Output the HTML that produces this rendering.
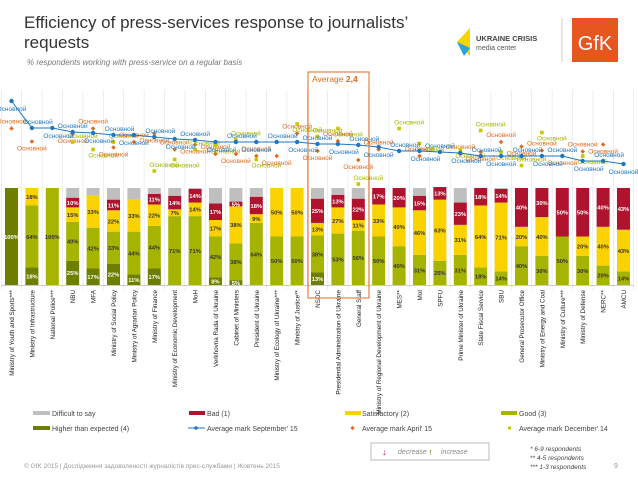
<!DOCTYPE html>
<html><head><meta charset="utf-8"><style>
body{margin:0;background:#fff;font-family:"Liberation Sans","DejaVu Sans",sans-serif}
svg{display:block}
</style></head><body>
<svg id="c" width="638" height="479" viewBox="0 0 638 479" xmlns="http://www.w3.org/2000/svg" font-family="Liberation Sans, DejaVu Sans, sans-serif">
<text x="24" y="28" font-size="17" fill="#333">Efficiency of press-services response to journalists’</text>
<text x="24" y="48" font-size="17" fill="#333">requests</text>
<text x="27" y="65" font-size="8" font-style="italic" fill="#777">% respondents working with press-service on a regular basis</text>
<g>
<polygon points="457,42 470,28 470,56" fill="#f5d400"/><polygon points="457,42 470,48 464,56" fill="#29a3d9"/>
<text x="476" y="41" font-size="7.5" font-weight="bold" fill="#444">UKRAINE CRISIS</text>
<text x="476" y="50" font-size="7" fill="#555">media center</text>
</g>
<line x1="562" y1="18" x2="562" y2="62" stroke="#ccc"/>
<g><rect x="572" y="18" width="46" height="44" fill="#e8561f"/><text x="595" y="50" font-size="20" fill="#fff" text-anchor="middle">GfK</text></g>
<g id="grid"></g><g id="bars"></g><g id="marks"></g><g id="xl"></g>
<rect x="308" y="72" width="61" height="226" fill="none" stroke="#e06a1c" stroke-width="1"/>
<text x="312" y="82" font-size="8.5" fill="#e06a1c">Average <tspan font-weight="bold">2,4</tspan></text>
<g font-size="7" fill="#444">
<g><rect x="33" y="411" width="17" height="4" fill="#bfbfbf"/><text x="52" y="416">Difficult to say</text></g>
<g><rect x="189" y="411" width="16" height="4" fill="#b0132e"/><text x="207" y="416">Bad (1)</text></g>
<g><rect x="345" y="411" width="16" height="4" fill="#fad200"/><text x="362" y="416">Satisfactory (2)</text></g>
<g><rect x="501" y="411" width="16" height="4" fill="#a5b400"/><text x="519" y="416">Good (3)</text></g>
<g><rect x="33" y="426" width="17" height="4" fill="#6e7f00"/><text x="52" y="431">Higher than expected (4)</text></g>
<g><line x1="188" y1="428" x2="205" y2="428" stroke="#1f77c4"/><circle cx="196" cy="428" r="1.8" fill="#1f77c4"/><text x="207" y="431">Average mark September' 15</text></g>
<g><rect x="351" y="426.5" width="3" height="3" fill="#e06a1c" transform="rotate(45 352.5 428)"/><text x="362" y="431">Average mark April' 15</text></g>
<g><rect x="508" y="426.5" width="3" height="3" fill="#c8c800"/><text x="519" y="431">Average mark December' 14</text></g>
</g>
<g>
<rect x="371" y="443" width="118" height="17" fill="#fff" stroke="#bbb"/>
<text x="382" y="455" font-size="9" fill="#b0132e" font-weight="bold">↓</text>
<text x="398" y="454" font-size="7" font-style="italic" fill="#888">decrease</text>
<text x="428" y="455" font-size="9" fill="#6e7f00" font-weight="bold">↑</text>
<text x="441" y="454" font-size="7" font-style="italic" fill="#888">increase</text>
</g>
<g font-size="6.5" font-style="italic" fill="#444">
<text x="530" y="451">* 6-9 respondents</text><text x="530" y="460">** 4-5 respondents</text><text x="530" y="469">*** 1-3 respondents</text></g>
<text x="24" y="468" font-size="6.5" fill="#999">© GfK 2015 | Дослідження задоволеності журналістів прес-службами | Жовтень 2015</text>
<text x="614" y="468" font-size="7" fill="#999">9</text>
</svg>
<script>
const categories=["Ministry of Youth and Sports***","Ministry of Infrastructure","National Police***","NBU","MFA","Ministry of Social Policy","Ministry of Agrarian Policy","Ministry of Finance","Ministry of Economic Development","MoH","Verkhovna Rada of Ukraine","Cabinet of Ministers","President of Ukraine","Ministry of Ecology of Ukraine***","Ministry of Justice**","NSDC","Presidential Administration of Ukraine","General Staff","Ministry of Regional Development of Ukraine","MES**","MoI","SPFU","Prime Minister of Ukraine","State Fiscal Service","SBU","General Prosecutor Office","Ministry of Energy and Coal","Ministry of Culture***","Ministry of Defense","NERC**","AMCU"];
const higher=[100,18,0,25,17,22,11,17,0,0,8,5,0,0,0,13,0,0,0,0,0,0,0,0,0,0,0,0,0,0,0];
const good=[0,64,100,40,42,33,44,44,71,71,42,38,64,50,50,38,53,56,50,40,31,25,31,18,14,40,30,50,30,20,14];
const satisfactory=[0,18,0,15,33,22,33,22,7,14,17,38,9,50,50,13,27,11,33,40,46,63,31,64,71,20,40,0,20,40,43];
const bad=[0,0,0,10,0,11,0,11,14,14,17,5,18,0,0,25,13,22,17,20,15,13,23,18,14,40,30,50,50,40,43];
const sep15=[3.58,3.04,3.04,2.96,2.94,2.90,2.90,2.86,2.82,2.80,2.76,2.76,2.76,2.76,2.76,2.72,2.72,2.70,2.66,2.58,2.58,2.56,2.54,2.48,2.48,2.48,2.48,2.48,2.38,2.38,2.32];
const apr15=[3.03,2.77,null,2.92,3.03,2.65,2.76,2.93,2.61,2.71,2.52,2.52,2.48,2.48,2.93,2.58,2.78,2.40,2.61,null,2.48,null,2.52,2.56,2.76,2.67,2.59,2.48,2.57,2.71,null];
const dec14=[null,null,null,2.76,2.61,2.76,null,2.18,2.41,2.61,2.69,2.81,2.41,null,3.12,2.87,3.03,1.92,null,3.03,2.73,null,2.60,2.99,2.56,2.29,2.95,null,2.48,null,null];
const NS="http://www.w3.org/2000/svg";
const n=categories.length, X0=1.3, STEP=20.4, BT=188, BB=285, BW=13;
const cx=i=>X0+STEP*(i+0.5);
const yp=p=>(BB-BT)*p/100;
const yv=v=>280-v*50;
function mk(t,a,p){const e=document.createElementNS(NS,t);for(const k in a)e.setAttribute(k,a[k]);p.appendChild(e);return e;}
const grid=document.getElementById('grid'),bars=document.getElementById('bars'),marks=document.getElementById('marks'),xl=document.getElementById('xl');
for(let i=0;i<=n;i++){const g=mk('line',{x1:X0+STEP*i,x2:X0+STEP*i,y1:90,y2:290,stroke:'#dde3ea','stroke-width':0.6},grid);

}
const axis=mk('line',{x1:X0,x2:X0+STEP*n,y1:BB+0.5,y2:BB+0.5,stroke:'#999','stroke-width':0.6},grid);


const series=[["higher",higher,"#6e7f00","#fff"],["good",good,"#a5b400","#333"],["satisfactory",satisfactory,"#fad200","#333"],["bad",bad,"#b0132e","#fff"]];
for(let i=0;i<n;i++){
  let acc=0;const x=cx(i)-BW/2;
  for(const [nm,arr,col,tc] of series){const v=arr[i];if(!v)continue;
    const y=BB-yp(acc+v);
    const r=mk('rect',{x:x,y:y,width:BW,height:yp(v),fill:col},bars);
    
    
    const t=mk('text',{x:cx(i),y:y+yp(v)/2+2.3,'font-size':5.8,'font-weight':'bold','text-anchor':'middle',fill:tc},bars);t.textContent=v+'%';
    
    
    acc+=v;}
  const rest=100-acc;
  if(rest>0){const r=mk('rect',{x:x,y:BT,width:BW,height:yp(rest),fill:'#bfbfbf'},bars);
    
    }
  const lt=mk('text',{transform:`translate(${cx(i)+2.5},290) rotate(-90)`,'font-size':6.3,'text-anchor':'end',fill:'#222'},xl);
  lt.textContent=categories[i];
  
  
}
function lab(x,y,c){const t=mk('text',{x:x,y:y,'font-size':6.5,fill:c,'text-anchor':'middle'},marks);t.textContent='Основной';

}
for(let i=0;i<n;i++){
  if(apr15[i]!=null){const y=yv(apr15[i]);
    const d=mk('rect',{x:cx(i)-1.6,y:y-1.6,width:3.2,height:3.2,fill:'#e06a1c',transform:`rotate(45 ${cx(i)} ${y})`},marks);
    
    
    lab(cx(i),y+(i%2?9:-5),'#e06a1c');}
  if(dec14[i]!=null){const y=yv(dec14[i]);
    const s=mk('rect',{x:cx(i)-1.8,y:y-1.8,width:3.6,height:3.6,fill:'#c8c800'},marks);
    
    
    lab(cx(i)+10,y+(i%2?-4:8),'#a5b400');}
}
const pts=sep15.map((v,i)=>cx(i)+','+yv(v)).join(' ');
const pl=mk('polyline',{points:pts,fill:'none',stroke:'#1f77c4','stroke-width':1},marks);


for(let i=0;i<n;i++){const y=yv(sep15[i]);
  const c=mk('circle',{cx:cx(i),cy:y,r:2.2,fill:'#1f77c4'},marks);
  
  
  lab(cx(i)+(i%3==0?0:6),y+(i%2?-4:10),'#1f77c4');}
</script>
</body></html>
